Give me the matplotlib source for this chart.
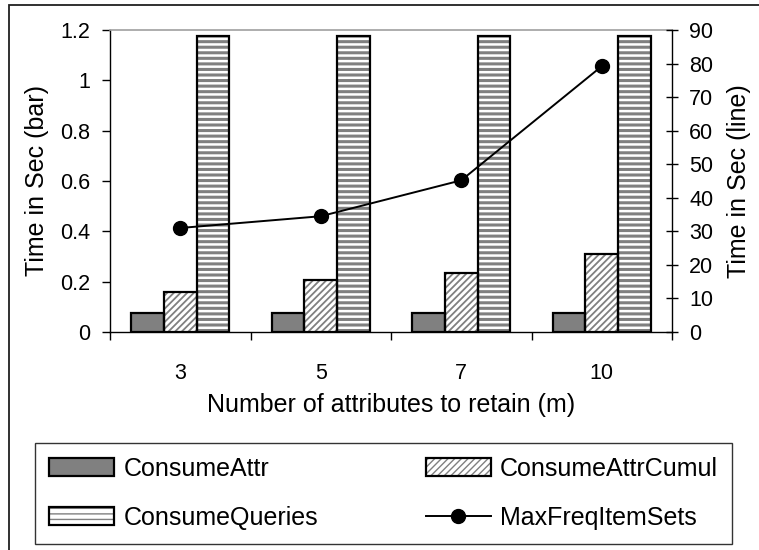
import matplotlib
matplotlib.use("Agg")
import matplotlib.pyplot as plt
from matplotlib.patches import Rectangle
from matplotlib.legend_handler import HandlerTuple
from matplotlib.ticker import FuncFormatter
import numpy as np

plt.rcParams['font.family'] = ['Liberation Sans', 'DejaVu Sans']
plt.rcParams['hatch.color'] = '#808080'

categories = ['3', '5', '7', '10']
consume_attr = [0.075, 0.075, 0.075, 0.075]
consume_attr_cumul = [0.158, 0.207, 0.236, 0.31]
consume_queries = [1.175, 1.175, 1.175, 1.175]
max_freq_itemsets = [31.0, 34.5, 45.2, 79.2]

fig = plt.figure(figsize=(7.59, 5.5), dpi=100)
ax = fig.add_axes([110 / 759, 1 - 332 / 550, (672 - 110) / 759, (332 - 30) / 550])
ax2 = ax.twinx()

x = np.arange(len(categories))
w = 0.232
edge_lw = 1.6


def hatched_bars(xpos, vals, hatch, face, hlw):
    bars = ax.bar(xpos, vals, w, color=face, hatch=hatch, linewidth=0, zorder=2)
    for b in bars:
        if hasattr(b, 'set_hatch_linewidth'):
            b.set_hatch_linewidth(hlw)
    outline = ax.bar(xpos, vals, w, fill=False, edgecolor='black',
                     linewidth=edge_lw, zorder=3)
    return bars, outline


with plt.rc_context({'hatch.linewidth': 1.3}):
    b1 = hatched_bars(x - w, consume_attr, None, '#808080', 1.3)
    b2 = hatched_bars(x, consume_attr_cumul, '/////', 'white', 1.3)
with plt.rc_context({'hatch.linewidth': 2.2}):
    b3 = hatched_bars(x + w, consume_queries, '---', 'white', 2.2)

line, = ax2.plot(x, max_freq_itemsets, color='black', linewidth=1.4,
                 marker='o', markersize=10, zorder=5)

# axes limits and ticks
ax.set_xlim(-0.5, len(categories) - 0.5)
ax.set_ylim(0, 1.2)
ax2.set_ylim(0, 90)
ax.set_yticks(np.arange(0, 1.21, 0.2))
ax.yaxis.set_major_formatter(FuncFormatter(lambda v, p: f"{v:g}"))
ax2.set_yticks(np.arange(0, 91, 10))

ax.set_xticks(np.arange(-0.5, len(categories), 1.0))
ax.set_xticklabels([])
ax.set_xticks(x, minor=True)
ax.set_xticklabels(categories, minor=True)
ax.tick_params(axis='x', which='major', direction='out', length=6, width=1)
ax.tick_params(axis='x', which='minor', length=0, pad=22, labelsize=15.5)
ax.tick_params(axis='y', direction='out', length=6, width=1, pad=8, labelsize=15.5)
ax2.tick_params(axis='y', direction='inout', length=9, width=1, pad=8, labelsize=15.5)

for s in ['left', 'bottom', 'right']:
    ax.spines[s].set_linewidth(1)
ax.spines['right'].set_visible(False)
ax.spines['top'].set_color('#a0a0a0')
ax.spines['top'].set_linewidth(1.2)
for s in ['left', 'bottom', 'top']:
    ax2.spines[s].set_visible(False)
ax2.spines['right'].set_linewidth(1)

ax.set_xlabel('Number of attributes to retain (m)', fontsize=18, labelpad=7)
ax.set_ylabel('Time in Sec (bar)', fontsize=18, labelpad=8)
ax2.set_ylabel('Time in Sec (line)', fontsize=18, labelpad=10)

# legend
handles = [(b1[0][0], b1[1][0]), (b3[0][0], b3[1][0]),
           (b2[0][0], b2[1][0]), line]
labels = ['ConsumeAttr', 'ConsumeQueries', 'ConsumeAttrCumul', 'MaxFreqItemSets']
leg_top = 1 - 443 / 550
leg = fig.legend(handles, labels, ncol=2, loc='upper left',
                 bbox_to_anchor=(35 / 759, leg_top - 0.2, (732 - 35) / 759, 0.2),
                 mode='expand', borderaxespad=0, fontsize=18, fancybox=False,
                 frameon=True, edgecolor='black', handlelength=2.6, handleheight=0.72,
                 handletextpad=0.38, labelspacing=1.0, borderpad=0.56,
                 handler_map={tuple: HandlerTuple(ndivide=1)})
leg.get_frame().set_linewidth(1)

# outer frame of the chart area
fig.patches.append(Rectangle((9 / 759, -0.05), 1.05, 1 - 5 / 550 + 0.05,
                             transform=fig.transFigure, fill=False,
                             edgecolor='#202020', linewidth=1.3))

fig.savefig('out.png', dpi=100)
